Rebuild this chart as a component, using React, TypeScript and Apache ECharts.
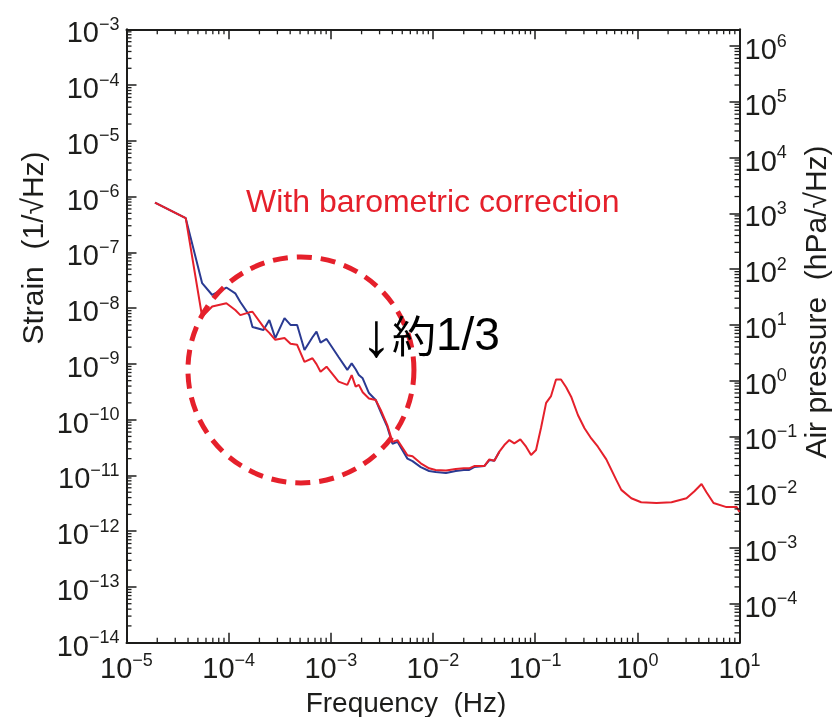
import React, { useEffect, useRef } from 'react';
import * as echarts from 'echarts';

// Frequency bins (Hz) shared by both spectra
const frequencyHz = [
  1.9e-5, 3.8e-5, 5.5e-5, 6.9e-5, 9.5e-5, 1.16e-4, 1.3e-4, 1.59e-4, 1.71e-4, 2.19e-4,
  2.5e-4, 2.86e-4, 3.52e-4, 4.03e-4, 4.68e-4, 5.52e-4, 6.61e-4, 7.24e-4, 7.93e-4, 9.08e-4,
  1.19e-3, 1.45e-3, 1.6e-3, 1.75e-3, 1.88e-3, 2.05e-3, 2.36e-3, 2.75e-3, 3.08e-3, 3.57e-3,
  4.01e-3, 4.49e-3, 5.62e-3, 6.3e-3, 7.59e-3, 9.16e-3, 1.06e-2, 1.34e-2, 1.67e-2, 2.0e-2,
  2.26e-2, 2.53e-2, 3.18e-2, 3.56e-2, 3.98e-2, 4.46e-2, 4.99e-2, 5.59e-2, 6.25e-2, 7.16e-2,
  8.15e-2, 9.12e-2, 0.102, 0.114, 0.128, 0.143, 0.16, 0.179, 0.201, 0.225,
  0.262, 0.304, 0.354, 0.411, 0.497, 0.622, 0.697, 0.873, 1.09, 1.54,
  2.16, 3.03, 3.62, 4.25, 4.75, 5.57, 7.46, 9.37, 10,
];

// Strain spectrum without barometric correction (1/√Hz)
const strainRaw: (number | null)[] = [
  7.8e-7, 4.1e-7, 2.8e-8, 1.72e-8, 2.34e-8, 1.84e-8, 1.29e-8, 7.5e-9, 4.6e-9, 4.05e-9,
  6.1e-9, 2.9e-9, 6.6e-9, 5.0e-9, 5.0e-9, 1.77e-9, 3.0e-9, 3.8e-9, 2.4e-9, 2.8e-9,
  1.33e-9, 7.8e-10, 1.02e-9, 8.0e-10, 6.3e-10, 5.5e-10, 3.0e-10, 2.25e-10, 1.37e-10, 7.4e-11,
  3.7e-11, 4.0e-11, 2.0e-11, 1.8e-11, 1.41e-11, 1.2e-11, 1.15e-11, 1.1e-11, 1.2e-11, 1.25e-11,
  1.25e-11, 1.41e-11, 1.47e-11, 1.89e-11, 1.83e-11, 2.66e-11,
];

// Strain spectrum with barometric correction (1/√Hz)
const strainCorrected = [
  7.8e-7, 4.1e-7, 7.0e-9, 1.07e-8, 1.22e-8, 9.25e-9, 7.5e-9, 8.4e-9, 8.6e-9, 4.6e-9,
  3.6e-9, 2.7e-9, 2.9e-9, 2.3e-9, 2.2e-9, 1.09e-9, 1.26e-9, 9.9e-10, 7.2e-10, 8.9e-10,
  4.8e-10, 4.2e-10, 6.3e-10, 3.9e-10, 4.2e-10, 3.1e-10, 2.4e-10, 2.25e-10, 1.49e-10, 8.0e-11,
  4.0e-11, 4.3e-11, 2.3e-11, 2.2e-11, 1.65e-11, 1.34e-11, 1.25e-11, 1.22e-11, 1.3e-11, 1.34e-11,
  1.34e-11, 1.47e-11, 1.47e-11, 1.94e-11, 1.83e-11, 2.66e-11, 3.5e-11, 4.3e-11, 3.76e-11, 4.44e-11,
  3.27e-11, 2.32e-11, 2.85e-11, 7.1e-11, 2.0e-10, 2.65e-10, 5.24e-10, 5.24e-10, 3.8e-10, 2.58e-10,
  1.21e-10, 7.0e-11, 4.6e-11, 3.27e-11, 1.94e-11, 8.3e-12, 5.5e-12, 3.9e-12, 3.3e-12, 3.2e-12,
  3.3e-12, 3.9e-12, 5.2e-12, 7.0e-12, 5.0e-12, 3.2e-12, 2.7e-12, 2.7e-12, 2.2e-12,
];

// Axis ranges as decades (log10)
const freqDecades = [-5, 1];
const strainDecades = [-14, -3];
const pressureDecades = [-4.7, 6.3];

// Marked region of the spectrum
const circleCenterHz = 5.1e-4;
const circleCenterStrain = 7.8e-10;

const FONT = '"Liberation Sans", Arial, Helvetica, sans-serif';
const CJK = '"Noto Sans CJK JP", sans-serif';
const INK = '#1d1d1b';
const RED = '#e5202b';
const BLUE = '#2a3a92';

const toLogPairs = (ys: (number | null)[]) =>
  frequencyHz
    .map((f, i) => (ys[i] == null ? null : [Math.log10(f), Math.log10(ys[i] as number)]))
    .filter((p) => p !== null);

const powerLabel = (v: number) => {
  const k = Math.round(v);
  if (Math.abs(v - k) > 1e-6) return '';
  const exp = k < 0 ? '\u2212' + String(-k) : String(k);
  return `{b|10}{s|${exp}}`;
};

// "10" with a raised exponent
const labelRich = {
  b: { fontSize: 29, lineHeight: 29, fontFamily: FONT, color: INK, padding: [6, 0, 0, 0] },
  s: { fontSize: 18, lineHeight: 18, fontFamily: FONT, color: INK, verticalAlign: 'top' },
};

const minorDecades = (lo: number, hi: number) => {
  const out: number[] = [];
  for (let k = Math.floor(lo); k <= Math.ceil(hi); k++) {
    for (let m = 2; m <= 9; m++) {
      const v = k + Math.log10(m);
      if (v > lo && v < hi) out.push(v);
    }
  }
  return out;
};

const axisLine = { show: true, onZero: false, lineStyle: { color: INK, width: 2 } };
const majorTick = { show: true, inside: true, length: 10, lineStyle: { color: INK, width: 1.5 } };

const tickLine = (x1: number, y1: number, x2: number, y2: number) => ({
  type: 'line',
  shape: { x1, y1, x2, y2 },
  style: { stroke: INK, lineWidth: 1.3 },
});

export default function App() {
  const ref = useRef<HTMLDivElement>(null);

  useEffect(() => {
    const el = ref.current;
    if (!el) return;
    const chart = echarts.init(el, undefined, { renderer: 'svg' });

    const option: any = {
      animation: false,
      grid: { left: 126.5, top: 29.3, right: 99.5, bottom: 74.3, containLabel: false },
      xAxis: [
        {
          type: 'value', position: 'bottom', min: freqDecades[0], max: freqDecades[1], interval: 1,
          axisLine, axisTick: majorTick, splitLine: { show: false },
          axisLabel: { formatter: powerLabel, rich: labelRich, margin: 8 },
        },
        {
          type: 'value', position: 'top', min: freqDecades[0], max: freqDecades[1], interval: 1,
          axisLine, axisTick: majorTick, splitLine: { show: false }, axisLabel: { show: false },
        },
      ],
      yAxis: [
        {
          type: 'value', position: 'left', min: strainDecades[0], max: strainDecades[1], interval: 1,
          axisLine, axisTick: majorTick, splitLine: { show: false },
          axisLabel: { formatter: powerLabel, rich: labelRich, margin: 7 },
        },
        {
          type: 'value', position: 'right', min: pressureDecades[0], max: pressureDecades[1], splitNumber: 11,
          axisLine, axisTick: majorTick, splitLine: { show: false },
          axisLabel: { formatter: powerLabel, rich: labelRich, margin: 5 },
        },
      ],
      series: [
        {
          type: 'line', name: 'raw', xAxisIndex: 0, yAxisIndex: 0, data: toLogPairs(strainRaw),
          showSymbol: false, symbol: 'none', lineStyle: { color: BLUE, width: 2 }, z: 3,
        },
        {
          type: 'line', name: 'corrected', xAxisIndex: 0, yAxisIndex: 0, data: toLogPairs(strainCorrected),
          showSymbol: false, symbol: 'none', lineStyle: { color: RED, width: 2 }, z: 4,
        },
        {
          type: 'custom', xAxisIndex: 0, yAxisIndex: 0, silent: true, clip: false, z: 5,
          data: minorDecades(freqDecades[0], freqDecades[1]).map((v) => [v, strainDecades[0]]),
          renderItem: (params: any, api: any) => {
            const cs = params.coordSys;
            const px = api.coord([api.value(0), strainDecades[0]])[0];
            const top = cs.y;
            const bottom = cs.y + cs.height;
            return {
              type: 'group',
              children: [tickLine(px, bottom, px, bottom - 5), tickLine(px, top, px, top + 5)],
            };
          },
        },
        {
          type: 'custom', xAxisIndex: 0, yAxisIndex: 0, silent: true, clip: false, z: 5,
          data: minorDecades(strainDecades[0], strainDecades[1]).map((v) => [freqDecades[0], v]),
          renderItem: (params: any, api: any) => {
            const cs = params.coordSys;
            const py = api.coord([freqDecades[0], api.value(1)])[1];
            return tickLine(cs.x, py, cs.x + 5, py);
          },
        },
        {
          type: 'custom', xAxisIndex: 0, yAxisIndex: 1, silent: true, clip: false, z: 5,
          data: minorDecades(pressureDecades[0], pressureDecades[1]).map((v) => [freqDecades[0], v]),
          renderItem: (params: any, api: any) => {
            const cs = params.coordSys;
            const py = api.coord([freqDecades[0], api.value(1)])[1];
            const right = cs.x + cs.width;
            return tickLine(right, py, right - 5, py);
          },
        },
      ],
    };

    chart.setOption(option);

    const center = chart.convertToPixel({ gridIndex: 0 } as any, [
      Math.log10(circleCenterHz),
      Math.log10(circleCenterStrain),
    ]) as number[];

    chart.setOption({
      graphic: {
        elements: [
          {
            type: 'text', x: 406, y: 702,
            style: { text: 'Frequency  (Hz)', font: `28px ${FONT}`, fill: INK, align: 'center', verticalAlign: 'middle' },
          },
          {
            type: 'text', x: 32, y: 248, rotation: Math.PI / 2,
            style: { text: 'Strain  (1/\u221AHz)', font: `30px ${FONT}`, fill: INK, align: 'center', verticalAlign: 'middle' },
          },
          {
            type: 'text', x: 815, y: 302, rotation: Math.PI / 2,
            style: { text: 'Air pressure  (hPa/\u221AHz)', font: `30px ${FONT}`, fill: INK, align: 'center', verticalAlign: 'middle' },
          },
          {
            type: 'text', x: 246, y: 201, z: 10,
            style: { text: 'With barometric correction', font: `32px ${FONT}`, fill: RED, align: 'left', verticalAlign: 'middle' },
          },
          {
            type: 'text', x: 361, y: 334, z: 10,
            style: {
              text: '{a|\u2193}{k|約}{n|1/3}',
              align: 'left',
              verticalAlign: 'middle',
              rich: {
                a: { fontSize: 62, fontFamily: FONT, fill: '#000' },
                k: { fontSize: 44, fontFamily: CJK, fill: '#000' },
                n: { fontSize: 46, fontFamily: FONT, fill: '#000' },
              },
            },
          },
          {
            type: 'circle', z: 9, silent: true,
            shape: { cx: center[0], cy: center[1], r: 113 },
            style: { fill: 'none', stroke: RED, lineWidth: 5, lineDash: [15, 9] },
          },
        ],
      },
    });

    return () => chart.dispose();
  }, []);

  return <div ref={ref} style={{ position: 'fixed', left: 0, top: 0, width: 839, height: 717 }} />;
}
